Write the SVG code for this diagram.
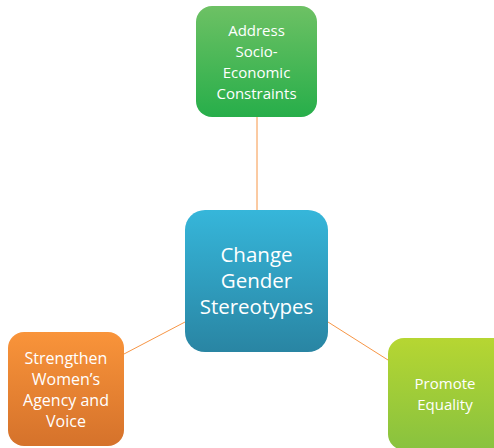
<svg xmlns="http://www.w3.org/2000/svg" width="494" height="448" viewBox="0 0 494 448">
<defs>
<linearGradient id="gGreen" x1="0" y1="0" x2="0" y2="1"><stop offset="0" stop-color="#6dc164"/><stop offset="1" stop-color="#27ae4a"/></linearGradient>
<linearGradient id="gBlue" x1="0" y1="0" x2="0" y2="1"><stop offset="0" stop-color="#36b6da"/><stop offset="1" stop-color="#2985a3"/></linearGradient>
<linearGradient id="gOrange" x1="0" y1="0" x2="0" y2="1"><stop offset="0" stop-color="#f9943a"/><stop offset="1" stop-color="#d5722b"/></linearGradient>
<linearGradient id="gLime" x1="0" y1="0" x2="0" y2="1"><stop offset="0" stop-color="#b6d632"/><stop offset="1" stop-color="#88c23f"/></linearGradient>
</defs>
<style>
text{font-family:"Open Sans","Liberation Sans",sans-serif;fill:#ffffff;text-anchor:middle}
.s{font-size:15px}
.m{font-size:16px}
.l{font-size:20.5px}
.c{stroke:#f79646;stroke-width:1;fill:none}
</style>
<rect width="494" height="448" fill="#ffffff"/>
<g id="connectors">
<line class="c" x1="257" y1="117" x2="257" y2="210"/>
<line class="c" x1="185" y1="322" x2="124" y2="354"/>
<line class="c" x1="328" y1="322" x2="388" y2="360"/>
</g>
<g id="node-top">
<rect x="196" y="6" width="121" height="111" rx="16" fill="url(#gGreen)"/>
<text class="s" x="256.5" y="36">Address</text>
<text class="s" x="256.5" y="57">Socio-</text>
<text class="s" x="256.5" y="78">Economic</text>
<text class="s" x="256.5" y="99">Constraints</text>
</g>
<g id="node-center">
<rect x="185" y="210" width="143" height="142" rx="20" fill="url(#gBlue)"/>
<text class="l" x="256.5" y="262">Change</text>
<text class="l" x="256.5" y="288">Gender</text>
<text class="l" x="256.5" y="314">Stereotypes</text>
</g>
<g id="node-left">
<rect x="8" y="332" width="116" height="114" rx="16" fill="url(#gOrange)"/>
<text class="m" x="66" y="364">Strengthen</text>
<text class="m" x="66" y="385">Women’s</text>
<text class="m" x="66" y="406">Agency and</text>
<text class="m" x="66" y="427">Voice</text>
</g>
<g id="node-right">
<rect x="388" y="338" width="122" height="112" rx="16" fill="url(#gLime)"/>
<text class="s" x="445" y="389">Promote</text>
<text class="s" x="445" y="410">Equality</text>
</g>
</svg>
